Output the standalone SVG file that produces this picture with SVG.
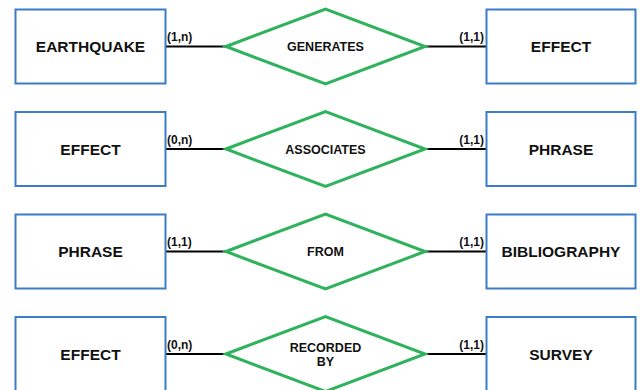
<svg xmlns="http://www.w3.org/2000/svg" width="640" height="390" viewBox="0 0 640 390">
<style>
.ent{fill:#fff;stroke:#3b7cc6;stroke-width:2}
.rel{fill:#fff;stroke:#2fb25c;stroke-width:3;stroke-linejoin:miter}
.ln{stroke:#000;stroke-width:2;fill:none}
.et{font-family:"Liberation Sans",Arial,sans-serif;font-weight:bold;font-size:15.5px;fill:#111;text-anchor:middle}
.rt{font-family:"Liberation Sans",Arial,sans-serif;font-weight:bold;font-size:12.5px;fill:#111;text-anchor:middle}
.ct{font-family:"Liberation Sans",Arial,sans-serif;font-weight:bold;font-size:12px;fill:#111}
</style>
<rect width="640" height="390" fill="#fff"/>
<g id="connectors">
<line class="ln" x1="166" y1="46.5" x2="226" y2="46.5"/>
<line class="ln" x1="425" y1="46.5" x2="486" y2="46.5"/>
<line class="ln" x1="166" y1="149" x2="226" y2="149"/>
<line class="ln" x1="425" y1="149" x2="486" y2="149"/>
<line class="ln" x1="166" y1="251.5" x2="226" y2="251.5"/>
<line class="ln" x1="425" y1="251.5" x2="486" y2="251.5"/>
<line class="ln" x1="166" y1="354" x2="226" y2="354"/>
<line class="ln" x1="425" y1="354" x2="486" y2="354"/>
<text class="ct" x="167" y="41">(1,n)</text>
<text class="ct" x="484" y="41" text-anchor="end">(1,1)</text>
<text class="ct" x="167" y="143.5">(0,n)</text>
<text class="ct" x="484" y="143.5" text-anchor="end">(1,1)</text>
<text class="ct" x="167" y="246">(1,1)</text>
<text class="ct" x="484" y="246" text-anchor="end">(1,1)</text>
<text class="ct" x="167" y="348.5">(0,n)</text>
<text class="ct" x="484" y="348.5" text-anchor="end">(1,1)</text>
</g>
<g id="earthquake"><rect class="ent" x="15.5" y="9.5" width="150" height="74"/><text class="et" x="90.5" y="52">EARTHQUAKE</text></g>
<g id="generates"><polygon class="rel" points="226,46.5 325.5,9 425,46.5 325.5,84"/><text class="rt" x="325.5" y="51">GENERATES</text></g>
<g id="effect1"><rect class="ent" x="486.5" y="9.5" width="149" height="74"/><text class="et" x="561" y="52">EFFECT</text></g>
<g id="effect2"><rect class="ent" x="15.5" y="112" width="150" height="74"/><text class="et" x="90.5" y="154.5">EFFECT</text></g>
<g id="associates"><polygon class="rel" points="226,149 325.5,111.5 425,149 325.5,186.5"/><text class="rt" x="325.5" y="153.5">ASSOCIATES</text></g>
<g id="phrase1"><rect class="ent" x="486.5" y="112" width="149" height="74"/><text class="et" x="561" y="154.5">PHRASE</text></g>
<g id="phrase2"><rect class="ent" x="15.5" y="214.5" width="150" height="74"/><text class="et" x="90.5" y="257">PHRASE</text></g>
<g id="from"><polygon class="rel" points="226,251.5 325.5,214 425,251.5 325.5,289"/><text class="rt" x="325.5" y="256">FROM</text></g>
<g id="bibliography"><rect class="ent" x="486.5" y="214.5" width="149" height="74"/><text class="et" x="561" y="257">BIBLIOGRAPHY</text></g>
<g id="effect3"><rect class="ent" x="15.5" y="317" width="150" height="74"/><text class="et" x="90.5" y="359.5">EFFECT</text></g>
<g id="recordedby"><polygon class="rel" points="226,354 325.5,316.5 425,354 325.5,391.5"/><text class="rt" x="325.5" y="351.5">RECORDED</text><text class="rt" x="325.5" y="366">BY</text></g>
<g id="survey"><rect class="ent" x="486.5" y="317" width="149" height="74"/><text class="et" x="561" y="359.5">SURVEY</text></g>
</svg>
